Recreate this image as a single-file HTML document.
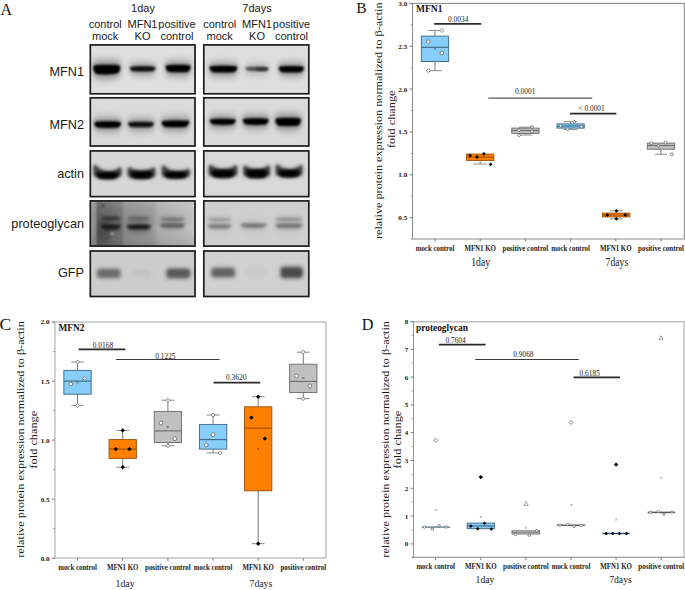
<!DOCTYPE html>
<html><head><meta charset="utf-8"><title>Figure</title>
<style>
html,body{margin:0;padding:0;background:#fff;}
body{width:685px;height:590px;overflow:hidden;font-family:"Liberation Serif", serif;}
svg{display:block;}
</style></head>
<body>
<svg width="685" height="590" viewBox="0 0 685 590">
<rect width="685" height="590" fill="#fff"/>
<text x="0.60" y="14.60" font-family='"Liberation Serif", serif' font-size="16" text-anchor="start" font-weight="normal" fill="#111" >A</text>
<text x="143.00" y="12.40" font-family='"Liberation Sans", sans-serif' font-size="11" text-anchor="middle" font-weight="normal" fill="#1a1a1a" >1day</text>
<text x="257.00" y="12.40" font-family='"Liberation Sans", sans-serif' font-size="11" text-anchor="middle" font-weight="normal" fill="#1a1a1a" >7days</text>
<text x="105.20" y="27.60" font-family='"Liberation Sans", sans-serif' font-size="11" text-anchor="middle" font-weight="normal" fill="#1a1a1a" >control</text>
<text x="105.20" y="40.00" font-family='"Liberation Sans", sans-serif' font-size="11" text-anchor="middle" font-weight="normal" fill="#1a1a1a" >mock</text>
<text x="142.50" y="27.60" font-family='"Liberation Sans", sans-serif' font-size="11" text-anchor="middle" font-weight="normal" fill="#1a1a1a" >MFN1</text>
<text x="142.50" y="40.00" font-family='"Liberation Sans", sans-serif' font-size="11" text-anchor="middle" font-weight="normal" fill="#1a1a1a" >KO</text>
<text x="177.00" y="27.60" font-family='"Liberation Sans", sans-serif' font-size="11" text-anchor="middle" font-weight="normal" fill="#1a1a1a" >positive</text>
<text x="177.00" y="40.00" font-family='"Liberation Sans", sans-serif' font-size="11" text-anchor="middle" font-weight="normal" fill="#1a1a1a" >control</text>
<text x="219.70" y="27.60" font-family='"Liberation Sans", sans-serif' font-size="11" text-anchor="middle" font-weight="normal" fill="#1a1a1a" >control</text>
<text x="219.70" y="40.00" font-family='"Liberation Sans", sans-serif' font-size="11" text-anchor="middle" font-weight="normal" fill="#1a1a1a" >mock</text>
<text x="257.00" y="27.60" font-family='"Liberation Sans", sans-serif' font-size="11" text-anchor="middle" font-weight="normal" fill="#1a1a1a" >MFN1</text>
<text x="257.00" y="40.00" font-family='"Liberation Sans", sans-serif' font-size="11" text-anchor="middle" font-weight="normal" fill="#1a1a1a" >KO</text>
<text x="291.50" y="27.60" font-family='"Liberation Sans", sans-serif' font-size="11" text-anchor="middle" font-weight="normal" fill="#1a1a1a" >positive</text>
<text x="291.50" y="40.00" font-family='"Liberation Sans", sans-serif' font-size="11" text-anchor="middle" font-weight="normal" fill="#1a1a1a" >control</text>
<text x="84.00" y="75.60" font-family='"Liberation Sans", sans-serif' font-size="12.7" text-anchor="end" font-weight="normal" fill="#1a1a1a" >MFN1</text>
<text x="84.00" y="128.80" font-family='"Liberation Sans", sans-serif' font-size="12.7" text-anchor="end" font-weight="normal" fill="#1a1a1a" >MFN2</text>
<text x="84.00" y="178.10" font-family='"Liberation Sans", sans-serif' font-size="12.7" text-anchor="end" font-weight="normal" fill="#1a1a1a" >actin</text>
<text x="84.00" y="227.80" font-family='"Liberation Sans", sans-serif' font-size="12.7" text-anchor="end" font-weight="normal" fill="#1a1a1a" >proteoglycan</text>
<text x="84.00" y="277.00" font-family='"Liberation Sans", sans-serif' font-size="12.7" text-anchor="end" font-weight="normal" fill="#1a1a1a" >GFP</text>
<defs><filter id="b1" x="-50%" y="-100%" width="200%" height="300%"><feGaussianBlur stdDeviation="1.0"/></filter><filter id="b15" x="-50%" y="-100%" width="200%" height="300%"><feGaussianBlur stdDeviation="1.4"/></filter><filter id="bh" x="-50%" y="-150%" width="200%" height="400%"><feGaussianBlur stdDeviation="2.4"/></filter><filter id="bb" x="-5%" y="-5%" width="110%" height="110%"><feGaussianBlur stdDeviation="0.45"/></filter><filter id="b2" x="-50%" y="-100%" width="200%" height="300%"><feGaussianBlur stdDeviation="1.9"/></filter><filter id="b13" x="-50%" y="-100%" width="200%" height="300%"><feGaussianBlur stdDeviation="1.25"/></filter><filter id="b3" x="-50%" y="-100%" width="200%" height="300%"><feGaussianBlur stdDeviation="3"/></filter><linearGradient id="pgL" x1="0" y1="0" x2="1" y2="0"><stop offset="0" stop-color="#a0a0a0"/><stop offset="0.05" stop-color="#8c8c8c"/><stop offset="0.075" stop-color="#5e5e5e"/><stop offset="0.13" stop-color="#686868"/><stop offset="0.3" stop-color="#7a7a7a"/><stop offset="0.33" stop-color="#919191"/><stop offset="0.6" stop-color="#9e9e9e"/><stop offset="0.66" stop-color="#b2b2b2"/><stop offset="0.95" stop-color="#c2c2c2"/><stop offset="1" stop-color="#cacaca"/></linearGradient><linearGradient id="pgV" x1="0" y1="0" x2="0" y2="1"><stop offset="0" stop-color="#fff" stop-opacity="0.12"/><stop offset="0.6" stop-color="#000" stop-opacity="0"/><stop offset="1" stop-color="#000" stop-opacity="0.12"/></linearGradient></defs>
<rect x="90.20" y="44.80" width="104.90" height="49.10" fill="#dfdfdf" stroke="none" stroke-width="1" />
<rect x="203.70" y="44.80" width="105.20" height="49.10" fill="#dedede" stroke="none" stroke-width="1" />
<rect x="90.20" y="97.70" width="104.90" height="48.40" fill="#dadada" stroke="none" stroke-width="1" />
<rect x="203.70" y="97.70" width="105.20" height="48.40" fill="#dadada" stroke="none" stroke-width="1" />
<rect x="90.20" y="150.80" width="104.90" height="45.90" fill="#d6d6d6" stroke="none" stroke-width="1" />
<rect x="203.70" y="150.80" width="105.20" height="45.90" fill="#d8d8d8" stroke="none" stroke-width="1" />
<rect x="90.20" y="200.80" width="104.90" height="45.40" fill="url(#pgL)" stroke="none" stroke-width="1" />
<rect x="90.20" y="200.80" width="104.90" height="45.40" fill="url(#pgV)" stroke="none" stroke-width="1" />
<ellipse cx="104" cy="232" rx="7" ry="12" fill="#303030" opacity="0.35" filter="url(#b2)"/>
<circle cx="103.3" cy="205.7" r="1.6" fill="#222" opacity="0.6" filter="url(#b1)"/>
<circle cx="112.1" cy="233.5" r="1.5" fill="#ddd" opacity="0.7" filter="url(#b1)"/>
<rect x="203.70" y="200.80" width="105.20" height="45.40" fill="#cfcfcf" stroke="none" stroke-width="1" />
<rect x="90.20" y="250.90" width="104.90" height="45.70" fill="#cdcdcd" stroke="none" stroke-width="1" />
<rect x="203.70" y="250.90" width="105.20" height="45.70" fill="#d0d0d0" stroke="none" stroke-width="1" />
<path d="M93.80 65.40 Q96.90 65.10 102.06 64.80 L111.34 64.80 Q116.50 65.10 119.60 65.40 Q121.60 69.70 117.02 73.60 Q106.70 75.20 96.38 74.10 Q91.80 69.70 93.80 65.40Z" fill="#000" opacity="0.45" filter="url(#bh)" transform="translate(106.70,69.70) scale(1.06,1.7) translate(-106.70,-69.70)"/>
<path d="M93.80 65.40 Q96.90 65.10 102.06 64.80 L111.34 64.80 Q116.50 65.10 119.60 65.40 Q121.60 69.70 117.02 73.60 Q106.70 75.20 96.38 74.10 Q91.80 69.70 93.80 65.40Z" fill="#000" opacity="1.0" filter="url(#b1)"/>
<path d="M130.50 66.90 Q133.42 66.60 138.28 66.30 L147.02 66.30 Q151.88 66.60 154.80 66.90 Q156.80 68.80 152.37 71.30 Q142.65 71.90 132.93 71.30 Q128.50 68.80 130.50 66.90Z" fill="#080808" opacity="0.45" filter="url(#bh)" transform="translate(142.65,68.80) scale(1.06,1.7) translate(-142.65,-68.80)"/>
<path d="M130.50 66.90 Q133.42 66.60 138.28 66.30 L147.02 66.30 Q151.88 66.60 154.80 66.90 Q156.80 68.80 152.37 71.30 Q142.65 71.90 132.93 71.30 Q128.50 68.80 130.50 66.90Z" fill="#080808" opacity="1.0" filter="url(#b1)"/>
<path d="M166.20 65.40 Q169.07 65.10 173.85 64.80 L182.45 64.80 Q187.23 65.10 190.10 65.40 Q192.10 68.35 187.71 71.90 Q178.15 72.50 168.59 71.90 Q164.20 68.35 166.20 65.40Z" fill="#000" opacity="0.45" filter="url(#bh)" transform="translate(178.15,68.35) scale(1.06,1.7) translate(-178.15,-68.35)"/>
<path d="M166.20 65.40 Q169.07 65.10 173.85 64.80 L182.45 64.80 Q187.23 65.10 190.10 65.40 Q192.10 68.35 187.71 71.90 Q178.15 72.50 168.59 71.90 Q164.20 68.35 166.20 65.40Z" fill="#000" opacity="1.0" filter="url(#b1)"/>
<path d="M210.10 66.30 Q213.29 66.00 218.61 65.70 L228.19 65.70 Q233.51 66.00 236.70 66.30 Q238.70 69.00 234.04 72.30 Q223.40 72.90 212.76 72.30 Q208.10 69.00 210.10 66.30Z" fill="#000" opacity="0.45" filter="url(#bh)" transform="translate(223.40,69.00) scale(1.06,1.7) translate(-223.40,-69.00)"/>
<path d="M210.10 66.30 Q213.29 66.00 218.61 65.70 L228.19 65.70 Q233.51 66.00 236.70 66.30 Q238.70 69.00 234.04 72.30 Q223.40 72.90 212.76 72.30 Q208.10 69.00 210.10 66.30Z" fill="#000" opacity="1.0" filter="url(#b1)"/>
<path d="M246.00 67.34 Q248.65 67.10 253.07 66.80 L261.03 66.80 Q265.45 67.10 268.10 67.64 Q269.90 68.95 265.89 70.80 Q257.05 71.40 248.21 70.80 Q244.20 68.80 246.00 67.34Z" fill="#505050" opacity="0.45" filter="url(#bh)" transform="translate(257.05,68.80) scale(1.06,1.7) translate(-257.05,-68.80)"/>
<path d="M246.00 67.34 Q248.65 67.10 253.07 66.80 L261.03 66.80 Q265.45 67.10 268.10 67.64 Q269.90 68.95 265.89 70.80 Q257.05 71.40 248.21 70.80 Q244.20 68.80 246.00 67.34Z" fill="#505050" opacity="1.0" filter="url(#b1)"/>
<path d="M256.00 67.83 Q257.39 67.70 259.71 67.40 L263.89 67.40 Q266.21 67.70 267.60 67.83 Q269.04 69.00 266.44 70.60 Q261.80 71.20 257.16 70.60 Q254.56 69.00 256.00 67.83Z" fill="#383838" opacity="1.0" filter="url(#b1)"/>
<path d="M279.40 66.60 Q282.27 66.30 287.05 66.00 L295.65 66.00 Q300.43 66.30 303.30 66.60 Q305.30 69.15 300.91 72.30 Q291.35 72.90 281.79 72.30 Q277.40 69.15 279.40 66.60Z" fill="#000" opacity="0.45" filter="url(#bh)" transform="translate(291.35,69.15) scale(1.06,1.7) translate(-291.35,-69.15)"/>
<path d="M279.40 66.60 Q282.27 66.30 287.05 66.00 L295.65 66.00 Q300.43 66.30 303.30 66.60 Q305.30 69.15 300.91 72.30 Q291.35 72.90 281.79 72.30 Q277.40 69.15 279.40 66.60Z" fill="#000" opacity="1.0" filter="url(#b1)"/>
<path d="M94.90 121.90 Q97.96 121.60 103.06 121.30 L112.24 121.30 Q117.34 121.60 120.40 121.90 Q122.40 124.45 117.85 127.60 Q107.65 128.20 97.45 127.60 Q92.90 124.45 94.90 121.90Z" fill="#000" opacity="0.45" filter="url(#bh)" transform="translate(107.65,124.45) scale(1.06,1.7) translate(-107.65,-124.45)"/>
<path d="M94.90 121.90 Q97.96 121.60 103.06 121.30 L112.24 121.30 Q117.34 121.60 120.40 121.90 Q122.40 124.45 117.85 127.60 Q107.65 128.20 97.45 127.60 Q92.90 124.45 94.90 121.90Z" fill="#000" opacity="1.0" filter="url(#b1)"/>
<path d="M128.60 122.40 Q131.56 122.10 136.50 121.80 L145.40 121.80 Q150.34 122.10 153.30 122.40 Q155.30 124.35 150.83 126.90 Q140.95 127.50 131.07 126.90 Q126.60 124.35 128.60 122.40Z" fill="#080808" opacity="0.45" filter="url(#bh)" transform="translate(140.95,124.35) scale(1.06,1.7) translate(-140.95,-124.35)"/>
<path d="M128.60 122.40 Q131.56 122.10 136.50 121.80 L145.40 121.80 Q150.34 122.10 153.30 122.40 Q155.30 124.35 150.83 126.90 Q140.95 127.50 131.07 126.90 Q126.60 124.35 128.60 122.40Z" fill="#080808" opacity="1.0" filter="url(#b1)"/>
<path d="M162.30 121.20 Q165.46 120.90 170.72 120.60 L180.18 120.60 Q185.44 120.90 188.60 120.60 Q190.60 123.45 185.97 126.90 Q175.45 127.50 164.93 126.90 Q160.30 123.75 162.30 121.20Z" fill="#000" opacity="0.45" filter="url(#bh)" transform="translate(175.45,123.75) scale(1.06,1.7) translate(-175.45,-123.75)"/>
<path d="M162.30 121.20 Q165.46 120.90 170.72 120.60 L180.18 120.60 Q185.44 120.90 188.60 120.60 Q190.60 123.45 185.97 126.90 Q175.45 127.50 164.93 126.90 Q160.30 123.75 162.30 121.20Z" fill="#000" opacity="1.0" filter="url(#b1)"/>
<path d="M210.40 119.30 Q213.36 119.00 218.30 118.70 L227.20 118.70 Q232.14 119.00 235.10 119.30 Q237.10 121.65 232.63 124.60 Q222.75 125.20 212.87 124.60 Q208.40 121.65 210.40 119.30Z" fill="#000" opacity="0.45" filter="url(#bh)" transform="translate(222.75,121.65) scale(1.06,1.7) translate(-222.75,-121.65)"/>
<path d="M210.40 119.30 Q213.36 119.00 218.30 118.70 L227.20 118.70 Q232.14 119.00 235.10 119.30 Q237.10 121.65 232.63 124.60 Q222.75 125.20 212.87 124.60 Q208.40 121.65 210.40 119.30Z" fill="#000" opacity="1.0" filter="url(#b1)"/>
<path d="M243.40 118.90 Q246.36 118.60 251.30 118.30 L260.20 118.30 Q265.14 118.60 268.10 118.90 Q270.10 121.45 265.63 124.60 Q255.75 125.20 245.87 124.60 Q241.40 121.45 243.40 118.90Z" fill="#000" opacity="0.45" filter="url(#bh)" transform="translate(255.75,121.45) scale(1.06,1.7) translate(-255.75,-121.45)"/>
<path d="M243.40 118.90 Q246.36 118.60 251.30 118.30 L260.20 118.30 Q265.14 118.60 268.10 118.90 Q270.10 121.45 265.63 124.60 Q255.75 125.20 245.87 124.60 Q241.40 121.45 243.40 118.90Z" fill="#000" opacity="1.0" filter="url(#b1)"/>
<path d="M276.00 118.40 Q278.92 118.10 283.78 117.80 L292.52 117.80 Q297.38 118.10 300.30 118.40 Q302.30 121.80 297.87 125.80 Q288.15 126.40 278.43 125.80 Q274.00 121.80 276.00 118.40Z" fill="#000" opacity="0.45" filter="url(#bh)" transform="translate(288.15,121.80) scale(1.06,1.7) translate(-288.15,-121.80)"/>
<path d="M276.00 118.40 Q278.92 118.10 283.78 117.80 L292.52 117.80 Q297.38 118.10 300.30 118.40 Q302.30 121.80 297.87 125.80 Q288.15 126.40 278.43 125.80 Q274.00 121.80 276.00 118.40Z" fill="#000" opacity="1.0" filter="url(#b1)"/>
<path d="M95.40 164.80 C101.94 171.87 113.06 171.87 119.60 167.20 Q121.40 167.20 121.40 169.00 L121.40 174.20 Q121.40 176.50 118.62 176.80 C113.06 179.73 101.94 179.73 96.38 176.80 Q93.60 176.50 93.60 174.20 L93.60 166.60 Q93.60 164.80 95.40 164.80Z" fill="#555" opacity="0.4" filter="url(#bh)"/>
<path d="M95.40 164.80 C101.94 173.47 113.06 173.47 119.60 167.20 Q121.40 167.20 121.40 169.00 L121.40 174.20 Q121.40 176.50 118.62 176.80 C113.06 179.73 101.94 179.73 96.38 176.80 Q93.60 176.50 93.60 174.20 L93.60 166.60 Q93.60 164.80 95.40 164.80Z" fill="#3c3c3c" opacity="1.0" filter="url(#b15)"/>
<path d="M97.10 172.60 Q99.60 172.30 103.76 172.00 L111.24 172.00 Q115.40 172.30 117.90 172.60 Q119.90 175.10 115.82 178.20 Q107.50 179.20 99.18 178.20 Q95.10 175.10 97.10 172.60Z" fill="#000" opacity="1.0" filter="url(#b15)"/>
<path d="M129.60 167.20 C136.02 170.60 146.98 170.60 153.40 167.60 Q155.20 167.60 155.20 169.40 L155.20 174.80 Q155.20 177.10 152.46 177.40 C146.98 179.27 136.02 179.27 130.54 177.40 Q127.80 177.10 127.80 174.80 L127.80 169.00 Q127.80 167.20 129.60 167.20Z" fill="#555" opacity="0.4" filter="url(#bh)"/>
<path d="M129.60 167.20 C136.02 172.20 146.98 172.20 153.40 167.60 Q155.20 167.60 155.20 169.40 L155.20 174.80 Q155.20 177.10 152.46 177.40 C146.98 179.27 136.02 179.27 130.54 177.40 Q127.80 177.10 127.80 174.80 L127.80 169.00 Q127.80 167.20 129.60 167.20Z" fill="#3c3c3c" opacity="1.0" filter="url(#b15)"/>
<path d="M131.30 171.80 Q133.75 171.50 137.83 171.20 L145.17 171.20 Q149.25 171.50 151.70 171.80 Q153.70 174.60 149.66 178.00 Q141.50 179.00 133.34 178.00 Q129.30 174.60 131.30 171.80Z" fill="#000" opacity="1.0" filter="url(#b15)"/>
<path d="M163.80 165.20 C170.34 171.53 181.46 171.53 188.00 168.80 Q189.80 168.80 189.80 170.60 L189.80 174.40 Q189.80 176.70 187.02 177.00 C181.46 179.13 170.34 179.13 164.78 177.00 Q162.00 176.70 162.00 174.40 L162.00 167.00 Q162.00 165.20 163.80 165.20Z" fill="#555" opacity="0.4" filter="url(#bh)"/>
<path d="M163.80 165.20 C170.34 173.13 181.46 173.13 188.00 168.80 Q189.80 168.80 189.80 170.60 L189.80 174.40 Q189.80 176.70 187.02 177.00 C181.46 179.13 170.34 179.13 164.78 177.00 Q162.00 176.70 162.00 174.40 L162.00 167.00 Q162.00 165.20 163.80 165.20Z" fill="#3c3c3c" opacity="1.0" filter="url(#b15)"/>
<path d="M165.50 172.20 Q168.00 171.90 172.16 171.60 L179.64 171.60 Q183.80 171.90 186.30 172.20 Q188.30 174.70 184.22 177.80 Q175.90 178.80 167.58 177.80 Q163.50 174.70 165.50 172.20Z" fill="#000" opacity="1.0" filter="url(#b15)"/>
<path d="M210.60 164.80 C217.32 169.53 228.68 169.53 235.40 165.20 Q237.20 165.20 237.20 167.00 L237.20 173.40 Q237.20 175.70 234.36 176.00 C228.68 178.40 217.32 178.40 211.64 176.00 Q208.80 175.70 208.80 173.40 L208.80 166.60 Q208.80 164.80 210.60 164.80Z" fill="#555" opacity="0.4" filter="url(#bh)"/>
<path d="M210.60 164.80 C217.32 171.13 228.68 171.13 235.40 165.20 Q237.20 165.20 237.20 167.00 L237.20 173.40 Q237.20 175.70 234.36 176.00 C228.68 178.40 217.32 178.40 211.64 176.00 Q208.80 175.70 208.80 173.40 L208.80 166.60 Q208.80 164.80 210.60 164.80Z" fill="#3c3c3c" opacity="1.0" filter="url(#b15)"/>
<path d="M212.30 170.40 Q214.87 170.10 219.15 169.80 L226.85 169.80 Q231.13 170.10 233.70 170.40 Q235.70 173.40 231.56 177.00 Q223.00 178.00 214.44 177.00 Q210.30 173.40 212.30 170.40Z" fill="#000" opacity="1.0" filter="url(#b15)"/>
<path d="M245.20 165.40 C251.38 169.37 262.02 169.37 268.20 165.60 Q270.00 165.60 270.00 167.40 L270.00 173.80 Q270.00 176.10 267.34 176.40 C262.02 178.53 251.38 178.53 246.06 176.40 Q243.40 176.10 243.40 173.80 L243.40 167.20 Q243.40 165.40 245.20 165.40Z" fill="#555" opacity="0.4" filter="url(#bh)"/>
<path d="M245.20 165.40 C251.38 170.97 262.02 170.97 268.20 165.60 Q270.00 165.60 270.00 167.40 L270.00 173.80 Q270.00 176.10 267.34 176.40 C262.02 178.53 251.38 178.53 246.06 176.40 Q243.40 176.10 243.40 173.80 L243.40 167.20 Q243.40 165.40 245.20 165.40Z" fill="#3c3c3c" opacity="1.0" filter="url(#b15)"/>
<path d="M246.90 170.20 Q249.25 169.90 253.17 169.60 L260.23 169.60 Q264.15 169.90 266.50 170.20 Q268.50 173.40 264.54 177.20 Q256.70 178.20 248.86 177.20 Q244.90 173.40 246.90 170.20Z" fill="#000" opacity="1.0" filter="url(#b15)"/>
<path d="M277.60 164.60 C283.78 169.60 294.42 169.60 300.60 165.00 Q302.40 165.00 302.40 166.80 L302.40 173.20 Q302.40 175.50 299.74 175.80 C294.42 177.93 283.78 177.93 278.46 175.80 Q275.80 175.50 275.80 173.20 L275.80 166.40 Q275.80 164.60 277.60 164.60Z" fill="#555" opacity="0.4" filter="url(#bh)"/>
<path d="M277.60 164.60 C283.78 171.20 294.42 171.20 300.60 165.00 Q302.40 165.00 302.40 166.80 L302.40 173.20 Q302.40 175.50 299.74 175.80 C294.42 177.93 283.78 177.93 278.46 175.80 Q275.80 175.50 275.80 173.20 L275.80 166.40 Q275.80 164.60 277.60 164.60Z" fill="#3c3c3c" opacity="1.0" filter="url(#b15)"/>
<path d="M279.30 170.60 Q281.65 170.30 285.57 170.00 L292.63 170.00 Q296.55 170.30 298.90 170.60 Q300.90 173.30 296.94 176.60 Q289.10 177.60 281.26 176.60 Q277.30 173.30 279.30 170.60Z" fill="#000" opacity="1.0" filter="url(#b15)"/>
<path d="M101.80 217.18 Q103.96 217.10 107.56 216.80 L114.04 216.80 Q117.64 217.10 119.80 217.18 Q121.06 218.20 118.00 219.60 Q110.80 220.20 103.60 219.60 Q100.54 218.20 101.80 217.18Z" fill="#2e2e2e" opacity="0.3" filter="url(#bh)" transform="translate(110.80,218.20) scale(1.06,1.7) translate(-110.80,-218.20)"/>
<path d="M101.80 217.18 Q103.96 217.10 107.56 216.80 L114.04 216.80 Q117.64 217.10 119.80 217.18 Q121.06 218.20 118.00 219.60 Q110.80 220.20 103.60 219.60 Q100.54 218.20 101.80 217.18Z" fill="#2e2e2e" opacity="1.0" filter="url(#b15)"/>
<path d="M101.60 225.00 Q103.81 224.70 107.49 224.40 L114.11 224.40 Q117.79 224.70 120.00 225.00 Q122.00 226.65 118.16 228.90 Q110.80 229.50 103.44 228.90 Q99.60 226.65 101.60 225.00Z" fill="#151515" opacity="0.35" filter="url(#bh)" transform="translate(110.80,226.65) scale(1.06,1.7) translate(-110.80,-226.65)"/>
<path d="M101.60 225.00 Q103.81 224.70 107.49 224.40 L114.11 224.40 Q117.79 224.70 120.00 225.00 Q122.00 226.65 118.16 228.90 Q110.80 229.50 103.44 228.90 Q99.60 226.65 101.60 225.00Z" fill="#151515" opacity="1.0" filter="url(#b15)"/>
<path d="M127.60 217.44 Q130.24 217.40 134.64 217.10 L142.56 217.10 Q146.96 217.40 149.60 217.44 Q150.72 218.35 147.40 219.60 Q138.60 220.20 129.80 219.60 Q126.47 218.35 127.60 217.44Z" fill="#5e5e5e" opacity="0.3" filter="url(#bh)" transform="translate(138.60,218.35) scale(1.06,1.7) translate(-138.60,-218.35)"/>
<path d="M127.60 217.44 Q130.24 217.40 134.64 217.10 L142.56 217.10 Q146.96 217.40 149.60 217.44 Q150.72 218.35 147.40 219.60 Q138.60 220.20 129.80 219.60 Q126.47 218.35 127.60 217.44Z" fill="#5e5e5e" opacity="1.0" filter="url(#b15)"/>
<path d="M127.40 225.35 Q130.14 225.10 134.70 224.80 L142.90 224.80 Q147.46 225.10 150.20 225.35 Q152.04 226.85 147.92 228.90 Q138.80 229.50 129.68 228.90 Q125.56 226.85 127.40 225.35Z" fill="#111" opacity="0.4" filter="url(#bh)" transform="translate(138.80,226.85) scale(1.06,1.7) translate(-138.80,-226.85)"/>
<path d="M127.40 225.35 Q130.14 225.10 134.70 224.80 L142.90 224.80 Q147.46 225.10 150.20 225.35 Q152.04 226.85 147.92 228.90 Q138.80 229.50 129.68 228.90 Q125.56 226.85 127.40 225.35Z" fill="#111" opacity="1.0" filter="url(#b15)"/>
<path d="M160.60 218.09 Q163.43 218.00 168.15 217.70 L176.65 217.70 Q181.37 218.00 184.20 218.09 Q185.50 219.15 181.84 220.60 Q172.40 221.20 162.96 220.60 Q159.29 219.15 160.60 218.09Z" fill="#6e6e6e" opacity="0.3" filter="url(#bh)" transform="translate(172.40,219.15) scale(1.06,1.7) translate(-172.40,-219.15)"/>
<path d="M160.60 218.09 Q163.43 218.00 168.15 217.70 L176.65 217.70 Q181.37 218.00 184.20 218.09 Q185.50 219.15 181.84 220.60 Q172.40 221.20 162.96 220.60 Q159.29 219.15 160.60 218.09Z" fill="#6e6e6e" opacity="1.0" filter="url(#b15)"/>
<path d="M160.60 223.78 Q163.43 223.50 168.15 223.20 L176.65 223.20 Q181.37 223.50 184.20 223.78 Q186.13 225.35 181.84 227.50 Q172.40 228.10 162.96 227.50 Q158.66 225.35 160.60 223.78Z" fill="#5c5c5c" opacity="0.3" filter="url(#bh)" transform="translate(172.40,225.35) scale(1.06,1.7) translate(-172.40,-225.35)"/>
<path d="M160.60 223.78 Q163.43 223.50 168.15 223.20 L176.65 223.20 Q181.37 223.50 184.20 223.78 Q186.13 225.35 181.84 227.50 Q172.40 228.10 162.96 227.50 Q158.66 225.35 160.60 223.78Z" fill="#5c5c5c" opacity="1.0" filter="url(#b15)"/>
<path d="M208.40 218.26 Q211.06 218.20 215.50 217.90 L223.50 217.90 Q227.94 218.20 230.60 218.26 Q231.81 219.25 228.38 220.60 Q219.50 221.20 210.62 220.60 Q207.19 219.25 208.40 218.26Z" fill="#929292" opacity="0.25" filter="url(#bh)" transform="translate(219.50,219.25) scale(1.06,1.7) translate(-219.50,-219.25)"/>
<path d="M208.40 218.26 Q211.06 218.20 215.50 217.90 L223.50 217.90 Q227.94 218.20 230.60 218.26 Q231.81 219.25 228.38 220.60 Q219.50 221.20 210.62 220.60 Q207.19 219.25 208.40 218.26Z" fill="#929292" opacity="1.0" filter="url(#b15)"/>
<path d="M208.40 224.59 Q211.06 224.30 215.50 224.00 L223.50 224.00 Q227.94 224.30 230.60 224.59 Q232.58 226.20 228.38 228.40 Q219.50 229.00 210.62 228.40 Q206.42 226.20 208.40 224.59Z" fill="#7c7c7c" opacity="0.25" filter="url(#bh)" transform="translate(219.50,226.20) scale(1.06,1.7) translate(-219.50,-226.20)"/>
<path d="M208.40 224.59 Q211.06 224.30 215.50 224.00 L223.50 224.00 Q227.94 224.30 230.60 224.59 Q232.58 226.20 228.38 228.40 Q219.50 229.00 210.62 228.40 Q206.42 226.20 208.40 224.59Z" fill="#7c7c7c" opacity="1.0" filter="url(#b15)"/>
<path d="M241.40 223.79 Q244.33 223.50 249.21 223.20 L257.99 223.20 Q262.87 223.50 265.80 223.79 Q267.78 225.40 263.36 227.60 Q253.60 228.20 243.84 227.60 Q239.42 225.40 241.40 223.79Z" fill="#747474" opacity="0.25" filter="url(#bh)" transform="translate(253.60,225.40) scale(1.06,1.7) translate(-253.60,-225.40)"/>
<path d="M241.40 223.79 Q244.33 223.50 249.21 223.20 L257.99 223.20 Q262.87 223.50 265.80 223.79 Q267.78 225.40 263.36 227.60 Q253.60 228.20 243.84 227.60 Q239.42 225.40 241.40 223.79Z" fill="#747474" opacity="1.0" filter="url(#b15)"/>
<path d="M276.00 218.09 Q279.12 218.00 284.32 217.70 L293.68 217.70 Q298.88 218.00 302.00 218.09 Q303.31 219.15 299.40 220.60 Q289.00 221.20 278.60 220.60 Q274.69 219.15 276.00 218.09Z" fill="#8a8a8a" opacity="0.25" filter="url(#bh)" transform="translate(289.00,219.15) scale(1.06,1.7) translate(-289.00,-219.15)"/>
<path d="M276.00 218.09 Q279.12 218.00 284.32 217.70 L293.68 217.70 Q298.88 218.00 302.00 218.09 Q303.31 219.15 299.40 220.60 Q289.00 221.20 278.60 220.60 Q274.69 219.15 276.00 218.09Z" fill="#8a8a8a" opacity="1.0" filter="url(#b15)"/>
<path d="M276.00 223.80 Q279.12 223.50 284.32 223.20 L293.68 223.20 Q298.88 223.50 302.00 223.80 Q304.00 225.55 299.40 227.90 Q289.00 228.50 278.60 227.90 Q274.00 225.55 276.00 223.80Z" fill="#747474" opacity="0.25" filter="url(#bh)" transform="translate(289.00,225.55) scale(1.06,1.7) translate(-289.00,-225.55)"/>
<path d="M276.00 223.80 Q279.12 223.50 284.32 223.20 L293.68 223.20 Q298.88 223.50 302.00 223.80 Q304.00 225.55 299.40 227.90 Q289.00 228.50 278.60 227.90 Q274.00 225.55 276.00 223.80Z" fill="#747474" opacity="1.0" filter="url(#b15)"/>
<rect x="96.80" y="268.60" width="23.80" height="9.60" rx="2.5" fill="#7a7a7a" opacity="1.0" filter="url(#b2)"/>
<rect x="98.50" y="270.50" width="20.50" height="6.00" rx="2.5" fill="#6c6c6c" opacity="1.0" filter="url(#b15)"/>
<rect x="132.00" y="269.50" width="19.60" height="7.50" rx="2.5" fill="#c2c2c2" opacity="1.0" filter="url(#b2)"/>
<rect x="166.20" y="268.20" width="24.20" height="10.20" rx="2.5" fill="#6a6a6a" opacity="1.0" filter="url(#b2)"/>
<rect x="168.00" y="270.00" width="21.00" height="6.80" rx="2.5" fill="#5a5a5a" opacity="1.0" filter="url(#b15)"/>
<rect x="211.20" y="267.40" width="23.80" height="10.20" rx="2.5" fill="#727272" opacity="1.0" filter="url(#b2)"/>
<rect x="213.00" y="269.20" width="20.50" height="6.60" rx="2.5" fill="#626262" opacity="1.0" filter="url(#b15)"/>
<rect x="246.00" y="268.50" width="20.00" height="7.50" rx="2.5" fill="#c8c8c8" opacity="1.0" filter="url(#b2)"/>
<rect x="280.40" y="266.60" width="22.40" height="11.60" rx="2.5" fill="#5e5e5e" opacity="1.0" filter="url(#b2)"/>
<rect x="282.00" y="268.50" width="19.50" height="8.00" rx="2.5" fill="#4a4a4a" opacity="1.0" filter="url(#b15)"/>
<rect x="90.30" y="44.90" width="104.70" height="48.90" fill="none" stroke="#1c1c1c" stroke-width="1.7" filter="url(#bb)"/>
<rect x="203.80" y="44.90" width="105.00" height="48.90" fill="none" stroke="#1c1c1c" stroke-width="1.7" filter="url(#bb)"/>
<rect x="90.30" y="97.80" width="104.70" height="48.20" fill="none" stroke="#1c1c1c" stroke-width="1.7" filter="url(#bb)"/>
<rect x="203.80" y="97.80" width="105.00" height="48.20" fill="none" stroke="#1c1c1c" stroke-width="1.7" filter="url(#bb)"/>
<rect x="90.30" y="150.90" width="104.70" height="45.70" fill="none" stroke="#1c1c1c" stroke-width="1.7" filter="url(#bb)"/>
<rect x="203.80" y="150.90" width="105.00" height="45.70" fill="none" stroke="#1c1c1c" stroke-width="1.7" filter="url(#bb)"/>
<rect x="90.30" y="200.90" width="104.70" height="45.20" fill="none" stroke="#1c1c1c" stroke-width="1.7" filter="url(#bb)"/>
<rect x="203.80" y="200.90" width="105.00" height="45.20" fill="none" stroke="#1c1c1c" stroke-width="1.7" filter="url(#bb)"/>
<rect x="90.30" y="251.00" width="104.70" height="45.50" fill="none" stroke="#1c1c1c" stroke-width="1.7" filter="url(#bb)"/>
<rect x="203.80" y="251.00" width="105.00" height="45.50" fill="none" stroke="#1c1c1c" stroke-width="1.7" filter="url(#bb)"/>
<text x="356.20" y="13.00" font-family='"Liberation Serif", serif' font-size="15.5" text-anchor="start" font-weight="normal" fill="#111" >B</text>
<text transform="translate(381.90,120.75) rotate(-90) scale(1,0.87)" font-family='"Liberation Serif", serif' font-size="12.3" text-anchor="middle" fill="#1a1a1a" textLength="236.60" lengthAdjust="spacingAndGlyphs">relative protein expression normalized to &#946;-actin</text>
<text transform="translate(394.90,119.30) rotate(-90) scale(1,0.87)" font-family='"Liberation Serif", serif' font-size="12.3" text-anchor="middle" fill="#1a1a1a">fold change</text>
<line x1="435.00" y1="30.50" x2="435.00" y2="36.10" stroke="#7a7a7a" stroke-width="1" />
<line x1="428.20" y1="30.50" x2="441.80" y2="30.50" stroke="#8a8a8a" stroke-width="1" />
<line x1="435.00" y1="61.50" x2="435.00" y2="70.70" stroke="#7a7a7a" stroke-width="1" />
<line x1="428.20" y1="70.70" x2="441.80" y2="70.70" stroke="#8a8a8a" stroke-width="1" />
<rect x="421.35" y="36.10" width="27.30" height="25.40" fill="#87cefa" stroke="#3a6680" stroke-width="0.9" />
<line x1="421.35" y1="47.30" x2="448.65" y2="47.30" stroke="#3a6680" stroke-width="1.1" />
<circle cx="428.30" cy="41.70" r="1.9" fill="#fff" stroke="#666" stroke-width="0.8"/>
<circle cx="441.80" cy="53.10" r="1.9" fill="#fff" stroke="#666" stroke-width="0.8"/>
<path d="M441.80 28.50L443.80 30.50L441.80 32.50L439.80 30.50Z" fill="#fff" stroke="#666" stroke-width="0.8"/>
<path d="M428.30 68.70L430.30 70.70L428.30 72.70L426.30 70.70Z" fill="#fff" stroke="#666" stroke-width="0.8"/>
<path d="M434.10 48.00L435.70 49.60M435.70 48.00L434.10 49.60" stroke="#555" stroke-width="0.7"/>
<line x1="480.20" y1="160.40" x2="480.20" y2="164.00" stroke="#7a7a7a" stroke-width="1" />
<line x1="473.20" y1="164.00" x2="487.20" y2="164.00" stroke="#8a8a8a" stroke-width="1" />
<rect x="466.55" y="154.10" width="27.30" height="6.30" fill="#ff8000" stroke="#9a4d00" stroke-width="0.9" />
<line x1="466.55" y1="157.20" x2="493.85" y2="157.20" stroke="#9a4d00" stroke-width="1.1" />
<path d="M470.10 153.60L472.00 155.50L470.10 157.40L468.20 155.50Z" fill="#000"/>
<path d="M483.90 151.90L485.80 153.80L483.90 155.70L482.00 153.80Z" fill="#000"/>
<path d="M477.00 155.10L478.90 157.00L477.00 158.90L475.10 157.00Z" fill="#000"/>
<path d="M490.60 162.40L492.50 164.30L490.60 166.20L488.70 164.30Z" fill="#000"/>
<line x1="525.40" y1="127.20" x2="525.40" y2="128.10" stroke="#7a7a7a" stroke-width="1" />
<line x1="518.90" y1="127.20" x2="531.90" y2="127.20" stroke="#8a8a8a" stroke-width="1" />
<line x1="525.40" y1="133.40" x2="525.40" y2="135.00" stroke="#7a7a7a" stroke-width="1" />
<line x1="518.90" y1="135.00" x2="531.90" y2="135.00" stroke="#8a8a8a" stroke-width="1" />
<rect x="511.75" y="128.10" width="27.30" height="5.30" fill="#c0c0c0" stroke="#6a6a6a" stroke-width="0.9" />
<line x1="511.75" y1="130.50" x2="539.05" y2="130.50" stroke="#6a6a6a" stroke-width="1.1" />
<circle cx="532.00" cy="127.00" r="1.4" fill="#fff" stroke="#666" stroke-width="0.8"/>
<circle cx="519.00" cy="130.30" r="1.4" fill="#fff" stroke="#666" stroke-width="0.8"/>
<circle cx="532.00" cy="131.50" r="1.4" fill="#fff" stroke="#666" stroke-width="0.8"/>
<path d="M519.00 133.70L520.60 135.30L519.00 136.90L517.40 135.30Z" fill="#fff" stroke="#666" stroke-width="0.8"/>
<line x1="570.60" y1="121.70" x2="570.60" y2="123.90" stroke="#7a7a7a" stroke-width="1" />
<line x1="563.60" y1="121.70" x2="577.60" y2="121.70" stroke="#8a8a8a" stroke-width="1" />
<line x1="570.60" y1="128.10" x2="570.60" y2="129.60" stroke="#7a7a7a" stroke-width="1" />
<line x1="563.60" y1="129.60" x2="577.60" y2="129.60" stroke="#8a8a8a" stroke-width="1" />
<rect x="556.95" y="123.90" width="27.30" height="4.20" fill="#87cefa" stroke="#3a6680" stroke-width="0.9" />
<line x1="556.95" y1="126.00" x2="584.25" y2="126.00" stroke="#3a6680" stroke-width="1.1" />
<circle cx="560.60" cy="125.80" r="1.4" fill="#fff" stroke="#666" stroke-width="0.8"/>
<path d="M574.20 120.30L575.80 121.90L574.20 123.50L572.60 121.90Z" fill="#fff" stroke="#666" stroke-width="0.8"/>
<path d="M567.50 127.80L569.10 129.40L567.50 131.00L565.90 129.40Z" fill="#fff" stroke="#666" stroke-width="0.8"/>
<circle cx="581.40" cy="126.60" r="1.4" fill="#fff" stroke="#666" stroke-width="0.8"/>
<line x1="616.20" y1="210.80" x2="616.20" y2="213.10" stroke="#7a7a7a" stroke-width="1" />
<line x1="609.85" y1="210.80" x2="622.55" y2="210.80" stroke="#8a8a8a" stroke-width="1" />
<line x1="616.20" y1="216.90" x2="616.20" y2="218.80" stroke="#7a7a7a" stroke-width="1" />
<line x1="609.85" y1="218.80" x2="622.55" y2="218.80" stroke="#8a8a8a" stroke-width="1" />
<rect x="602.55" y="213.10" width="27.30" height="3.80" fill="#ff8000" stroke="#9a4d00" stroke-width="0.9" />
<line x1="602.55" y1="215.00" x2="629.85" y2="215.00" stroke="#9a4d00" stroke-width="1.1" />
<path d="M607.30 213.10L609.20 215.00L607.30 216.90L605.40 215.00Z" fill="#000"/>
<path d="M616.40 208.90L618.30 210.80L616.40 212.70L614.50 210.80Z" fill="#000"/>
<path d="M616.40 216.90L618.30 218.80L616.40 220.70L614.50 218.80Z" fill="#000"/>
<path d="M625.30 213.10L627.20 215.00L625.30 216.90L623.40 215.00Z" fill="#000"/>
<line x1="661.00" y1="149.20" x2="661.00" y2="154.30" stroke="#7a7a7a" stroke-width="1" />
<line x1="655.00" y1="154.30" x2="667.00" y2="154.30" stroke="#8a8a8a" stroke-width="1" />
<rect x="647.35" y="143.10" width="27.30" height="6.10" fill="#c0c0c0" stroke="#6a6a6a" stroke-width="0.9" />
<line x1="647.35" y1="145.50" x2="674.65" y2="145.50" stroke="#6a6a6a" stroke-width="1.1" />
<circle cx="651.50" cy="143.30" r="1.4" fill="#fff" stroke="#666" stroke-width="0.8"/>
<circle cx="665.50" cy="142.50" r="1.4" fill="#fff" stroke="#666" stroke-width="0.8"/>
<circle cx="658.50" cy="145.80" r="1.3" fill="#fff" stroke="#666" stroke-width="0.8"/>
<circle cx="671.80" cy="154.30" r="1.5" fill="#fff" stroke="#666" stroke-width="0.8"/>
<line x1="434.20" y1="23.90" x2="481.20" y2="23.90" stroke="#2a2a2a" stroke-width="1.8" />
<text x="458.20" y="22.40" font-family='"Liberation Serif", serif' font-size="7.4" text-anchor="middle" font-weight="normal" fill="#222" >0.0034</text>
<line x1="488.30" y1="98.20" x2="592.20" y2="98.20" stroke="#5a5a5a" stroke-width="1.3" />
<text x="525.20" y="93.60" font-family='"Liberation Serif", serif' font-size="7.4" text-anchor="middle" font-weight="normal" fill="#222" >0.0001</text>
<line x1="570.00" y1="113.60" x2="616.40" y2="113.60" stroke="#2a2a2a" stroke-width="1.8" />
<text x="591.60" y="110.60" font-family='"Liberation Serif", serif' font-size="7.4" text-anchor="middle" font-weight="normal" fill="#222" >&lt; 0.0001</text>
<line x1="409.50" y1="3.40" x2="684.80" y2="3.40" stroke="#858585" stroke-width="1.0" />
<line x1="684.30" y1="3.40" x2="684.30" y2="238.90" stroke="#858585" stroke-width="1.0" />
<line x1="412.50" y1="3.40" x2="412.50" y2="239.65" stroke="#8a8a8a" stroke-width="1.0" />
<line x1="410.80" y1="238.90" x2="684.80" y2="238.90" stroke="#b0b0b0" stroke-width="1.5" />
<line x1="409.50" y1="3.50" x2="412.50" y2="3.50" stroke="#808080" stroke-width="1" />
<text x="407.30" y="5.95" font-family='"Liberation Serif", serif' font-size="7.15" text-anchor="end" font-weight="bold" fill="#222" >3.0</text>
<line x1="409.50" y1="46.33" x2="412.50" y2="46.33" stroke="#808080" stroke-width="1" />
<text x="407.30" y="48.78" font-family='"Liberation Serif", serif' font-size="7.15" text-anchor="end" font-weight="bold" fill="#222" >2.5</text>
<line x1="409.50" y1="89.15" x2="412.50" y2="89.15" stroke="#808080" stroke-width="1" />
<text x="407.30" y="91.60" font-family='"Liberation Serif", serif' font-size="7.15" text-anchor="end" font-weight="bold" fill="#222" >2.0</text>
<line x1="409.50" y1="131.98" x2="412.50" y2="131.98" stroke="#808080" stroke-width="1" />
<text x="407.30" y="134.43" font-family='"Liberation Serif", serif' font-size="7.15" text-anchor="end" font-weight="bold" fill="#222" >1.5</text>
<line x1="409.50" y1="174.80" x2="412.50" y2="174.80" stroke="#808080" stroke-width="1" />
<text x="407.30" y="177.25" font-family='"Liberation Serif", serif' font-size="7.15" text-anchor="end" font-weight="bold" fill="#222" >1.0</text>
<line x1="409.50" y1="217.62" x2="412.50" y2="217.62" stroke="#808080" stroke-width="1" />
<text x="407.30" y="220.07" font-family='"Liberation Serif", serif' font-size="7.15" text-anchor="end" font-weight="bold" fill="#222" >0.5</text>
<line x1="410.70" y1="24.91" x2="412.50" y2="24.91" stroke="#808080" stroke-width="0.8" />
<line x1="410.70" y1="67.74" x2="412.50" y2="67.74" stroke="#808080" stroke-width="0.8" />
<line x1="410.70" y1="110.56" x2="412.50" y2="110.56" stroke="#808080" stroke-width="0.8" />
<line x1="410.70" y1="153.39" x2="412.50" y2="153.39" stroke="#808080" stroke-width="0.8" />
<line x1="410.70" y1="196.21" x2="412.50" y2="196.21" stroke="#808080" stroke-width="0.8" />
<line x1="435.00" y1="238.90" x2="435.00" y2="241.70" stroke="#808080" stroke-width="1" />
<text x="435.00" y="250.60" font-family='"Liberation Serif", serif' font-size="8.6" text-anchor="middle" font-weight="bold" fill="#222"  textLength="38.60" lengthAdjust="spacingAndGlyphs">mock control</text>
<line x1="480.20" y1="238.90" x2="480.20" y2="241.70" stroke="#808080" stroke-width="1" />
<text x="480.20" y="250.60" font-family='"Liberation Serif", serif' font-size="8.6" text-anchor="middle" font-weight="bold" fill="#222"  textLength="31.60" lengthAdjust="spacingAndGlyphs">MFN1 KO</text>
<line x1="525.40" y1="238.90" x2="525.40" y2="241.70" stroke="#808080" stroke-width="1" />
<text x="525.40" y="250.60" font-family='"Liberation Serif", serif' font-size="8.6" text-anchor="middle" font-weight="bold" fill="#222"  textLength="45.80" lengthAdjust="spacingAndGlyphs">positive control</text>
<line x1="570.60" y1="238.90" x2="570.60" y2="241.70" stroke="#808080" stroke-width="1" />
<text x="570.60" y="250.60" font-family='"Liberation Serif", serif' font-size="8.6" text-anchor="middle" font-weight="bold" fill="#222"  textLength="38.60" lengthAdjust="spacingAndGlyphs">mock control</text>
<line x1="615.80" y1="238.90" x2="615.80" y2="241.70" stroke="#808080" stroke-width="1" />
<text x="615.80" y="250.60" font-family='"Liberation Serif", serif' font-size="8.6" text-anchor="middle" font-weight="bold" fill="#222"  textLength="31.60" lengthAdjust="spacingAndGlyphs">MFN1 KO</text>
<line x1="661.00" y1="238.90" x2="661.00" y2="241.70" stroke="#808080" stroke-width="1" />
<text x="661.00" y="250.60" font-family='"Liberation Serif", serif' font-size="8.6" text-anchor="middle" font-weight="bold" fill="#222"  textLength="45.80" lengthAdjust="spacingAndGlyphs">positive control</text>
<text x="480.70" y="265.80" font-family='"Liberation Serif", serif' font-size="11.6" text-anchor="middle" font-weight="normal" fill="#222"  textLength="19.00" lengthAdjust="spacingAndGlyphs">1day</text>
<text x="616.90" y="265.80" font-family='"Liberation Serif", serif' font-size="11.6" text-anchor="middle" font-weight="normal" fill="#222"  textLength="22.60" lengthAdjust="spacingAndGlyphs">7days</text>
<text x="416.00" y="11.80" font-family='"Liberation Serif", serif' font-size="9.5" text-anchor="start" font-weight="bold" fill="#111" >MFN1</text>
<text x="-0.60" y="330.20" font-family='"Liberation Serif", serif' font-size="17.5" text-anchor="start" font-weight="normal" fill="#111" >C</text>
<text transform="translate(23.70,439.45) rotate(-90) scale(1,0.87)" font-family='"Liberation Serif", serif' font-size="12.3" text-anchor="middle" fill="#1a1a1a" textLength="236.60" lengthAdjust="spacingAndGlyphs">relative protein expression normalized to &#946;-actin</text>
<text transform="translate(36.60,439.65) rotate(-90) scale(1,0.87)" font-family='"Liberation Serif", serif' font-size="12.3" text-anchor="middle" fill="#1a1a1a">fold change</text>
<line x1="77.50" y1="362.00" x2="77.50" y2="370.40" stroke="#7a7a7a" stroke-width="1" />
<line x1="71.25" y1="362.00" x2="83.75" y2="362.00" stroke="#8a8a8a" stroke-width="1" />
<line x1="77.50" y1="394.20" x2="77.50" y2="405.40" stroke="#7a7a7a" stroke-width="1" />
<line x1="71.25" y1="405.40" x2="83.75" y2="405.40" stroke="#8a8a8a" stroke-width="1" />
<rect x="63.85" y="370.40" width="27.30" height="23.80" fill="#87cefa" stroke="#3a6680" stroke-width="0.9" />
<line x1="63.85" y1="381.10" x2="91.15" y2="381.10" stroke="#3a6680" stroke-width="1.1" />
<path d="M77.50 360.00L79.50 362.00L77.50 364.00L75.50 362.00Z" fill="#fff" stroke="#666" stroke-width="0.8"/>
<path d="M84.30 376.40L86.30 378.40L84.30 380.40L82.30 378.40Z" fill="#fff" stroke="#666" stroke-width="0.8"/>
<circle cx="70.70" cy="384.00" r="1.9" fill="#fff" stroke="#666" stroke-width="0.8"/>
<path d="M77.50 403.40L79.50 405.40L77.50 407.40L75.50 405.40Z" fill="#fff" stroke="#666" stroke-width="0.8"/>
<path d="M76.50 381.50L78.50 383.50M78.50 381.50L76.50 383.50" stroke="#555" stroke-width="0.7"/>
<line x1="122.70" y1="430.40" x2="122.70" y2="439.60" stroke="#7a7a7a" stroke-width="1" />
<line x1="116.20" y1="430.40" x2="129.20" y2="430.40" stroke="#8a8a8a" stroke-width="1" />
<line x1="122.70" y1="458.40" x2="122.70" y2="467.20" stroke="#7a7a7a" stroke-width="1" />
<line x1="116.20" y1="467.20" x2="129.20" y2="467.20" stroke="#8a8a8a" stroke-width="1" />
<rect x="109.05" y="439.60" width="27.30" height="18.80" fill="#ff8000" stroke="#9a4d00" stroke-width="0.9" />
<line x1="109.05" y1="449.10" x2="136.35" y2="449.10" stroke="#9a4d00" stroke-width="1.1" />
<path d="M115.80 446.90L118.00 449.10L115.80 451.30L113.60 449.10Z" fill="#000"/>
<path d="M129.40 446.90L131.60 449.10L129.40 451.30L127.20 449.10Z" fill="#000"/>
<path d="M122.70 428.20L124.90 430.40L122.70 432.60L120.50 430.40Z" fill="#000"/>
<path d="M122.70 465.00L124.90 467.20L122.70 469.40L120.50 467.20Z" fill="#000"/>
<line x1="167.90" y1="400.20" x2="167.90" y2="411.40" stroke="#7a7a7a" stroke-width="1" />
<line x1="161.40" y1="400.20" x2="174.40" y2="400.20" stroke="#8a8a8a" stroke-width="1" />
<line x1="167.90" y1="442.50" x2="167.90" y2="445.80" stroke="#7a7a7a" stroke-width="1" />
<line x1="161.40" y1="445.80" x2="174.40" y2="445.80" stroke="#8a8a8a" stroke-width="1" />
<rect x="154.25" y="411.40" width="27.30" height="31.10" fill="#c0c0c0" stroke="#6a6a6a" stroke-width="0.9" />
<line x1="154.25" y1="430.90" x2="181.55" y2="430.90" stroke="#6a6a6a" stroke-width="1.1" />
<circle cx="161.00" cy="423.00" r="1.9" fill="#fff" stroke="#666" stroke-width="0.8"/>
<circle cx="174.80" cy="438.70" r="1.9" fill="#fff" stroke="#666" stroke-width="0.8"/>
<path d="M167.90 398.20L169.90 400.20L167.90 402.20L165.90 400.20Z" fill="#fff" stroke="#666" stroke-width="0.8"/>
<path d="M167.90 443.80L169.90 445.80L167.90 447.80L165.90 445.80Z" fill="#fff" stroke="#666" stroke-width="0.8"/>
<path d="M166.70 426.00L168.70 428.00M168.70 426.00L166.70 428.00" stroke="#555" stroke-width="0.7"/>
<line x1="213.10" y1="415.00" x2="213.10" y2="424.40" stroke="#7a7a7a" stroke-width="1" />
<line x1="206.60" y1="415.00" x2="219.60" y2="415.00" stroke="#8a8a8a" stroke-width="1" />
<line x1="213.10" y1="449.10" x2="213.10" y2="452.90" stroke="#7a7a7a" stroke-width="1" />
<line x1="206.60" y1="452.90" x2="219.60" y2="452.90" stroke="#8a8a8a" stroke-width="1" />
<rect x="199.45" y="424.40" width="27.30" height="24.70" fill="#87cefa" stroke="#3a6680" stroke-width="0.9" />
<line x1="199.45" y1="439.60" x2="226.75" y2="439.60" stroke="#3a6680" stroke-width="1.1" />
<circle cx="213.00" cy="434.70" r="1.9" fill="#fff" stroke="#666" stroke-width="0.8"/>
<circle cx="206.30" cy="445.00" r="1.9" fill="#fff" stroke="#666" stroke-width="0.8"/>
<path d="M213.00 413.00L215.00 415.00L213.00 417.00L211.00 415.00Z" fill="#fff" stroke="#666" stroke-width="0.8"/>
<path d="M220.30 451.00L222.30 453.00L220.30 455.00L218.30 453.00Z" fill="#fff" stroke="#666" stroke-width="0.8"/>
<line x1="258.20" y1="396.70" x2="258.20" y2="406.80" stroke="#7a7a7a" stroke-width="1" />
<line x1="251.70" y1="396.70" x2="264.70" y2="396.70" stroke="#8a8a8a" stroke-width="1" />
<line x1="258.20" y1="490.80" x2="258.20" y2="543.70" stroke="#7a7a7a" stroke-width="1" />
<line x1="251.70" y1="543.70" x2="264.70" y2="543.70" stroke="#8a8a8a" stroke-width="1" />
<rect x="244.55" y="406.80" width="27.30" height="84.00" fill="#ff8000" stroke="#9a4d00" stroke-width="0.9" />
<line x1="244.55" y1="428.10" x2="271.85" y2="428.10" stroke="#9a4d00" stroke-width="1.1" />
<path d="M251.40 415.40L253.60 417.60L251.40 419.80L249.20 417.60Z" fill="#000"/>
<path d="M264.80 436.40L267.00 438.60L264.80 440.80L262.60 438.60Z" fill="#000"/>
<path d="M258.20 394.50L260.40 396.70L258.20 398.90L256.00 396.70Z" fill="#000"/>
<path d="M258.20 541.50L260.40 543.70L258.20 545.90L256.00 543.70Z" fill="#000"/>
<path d="M257.40 448.20L259.00 449.80M259.00 448.20L257.40 449.80" stroke="#8a3a00" stroke-width="0.7"/>
<line x1="303.30" y1="352.20" x2="303.30" y2="364.20" stroke="#7a7a7a" stroke-width="1" />
<line x1="296.80" y1="352.20" x2="309.80" y2="352.20" stroke="#8a8a8a" stroke-width="1" />
<line x1="303.30" y1="392.50" x2="303.30" y2="398.60" stroke="#7a7a7a" stroke-width="1" />
<line x1="296.80" y1="398.60" x2="309.80" y2="398.60" stroke="#8a8a8a" stroke-width="1" />
<rect x="289.65" y="364.20" width="27.30" height="28.30" fill="#c0c0c0" stroke="#6a6a6a" stroke-width="0.9" />
<line x1="289.65" y1="381.40" x2="316.95" y2="381.40" stroke="#6a6a6a" stroke-width="1.1" />
<circle cx="296.60" cy="375.80" r="1.9" fill="#fff" stroke="#666" stroke-width="0.8"/>
<circle cx="309.90" cy="385.90" r="1.9" fill="#fff" stroke="#666" stroke-width="0.8"/>
<path d="M303.20 350.20L305.20 352.20L303.20 354.20L301.20 352.20Z" fill="#fff" stroke="#666" stroke-width="0.8"/>
<path d="M303.20 396.60L305.20 398.60L303.20 400.60L301.20 398.60Z" fill="#fff" stroke="#666" stroke-width="0.8"/>
<path d="M302.40 377.00L304.40 379.00M304.40 377.00L302.40 379.00" stroke="#555" stroke-width="0.7"/>
<line x1="78.60" y1="349.40" x2="125.30" y2="349.40" stroke="#2a2a2a" stroke-width="1.6" />
<text x="103.00" y="348.40" font-family='"Liberation Serif", serif' font-size="7.4" text-anchor="middle" font-weight="normal" fill="#222" >0.0168</text>
<line x1="116.00" y1="359.50" x2="219.60" y2="359.50" stroke="#3a3a3a" stroke-width="1.0" />
<text x="165.40" y="358.90" font-family='"Liberation Serif", serif' font-size="7.4" text-anchor="middle" font-weight="normal" fill="#222" >0.1225</text>
<line x1="213.60" y1="382.60" x2="260.30" y2="382.60" stroke="#2a2a2a" stroke-width="1.8" />
<text x="236.20" y="380.30" font-family='"Liberation Serif", serif' font-size="7.4" text-anchor="middle" font-weight="normal" fill="#222" >0.3620</text>
<line x1="51.90" y1="322.00" x2="326.75" y2="322.00" stroke="#c0c0c0" stroke-width="1.5" />
<line x1="326.00" y1="322.00" x2="326.00" y2="558.00" stroke="#c0c0c0" stroke-width="1.5" />
<line x1="54.90" y1="322.00" x2="54.90" y2="558.75" stroke="#c4c4c4" stroke-width="1.6" />
<line x1="53.20" y1="558.00" x2="326.75" y2="558.00" stroke="#c0c0c0" stroke-width="1.5" />
<line x1="51.90" y1="322.00" x2="54.90" y2="322.00" stroke="#808080" stroke-width="1" />
<text x="49.70" y="324.45" font-family='"Liberation Serif", serif' font-size="7.15" text-anchor="end" font-weight="bold" fill="#222" >2.0</text>
<line x1="51.90" y1="381.05" x2="54.90" y2="381.05" stroke="#808080" stroke-width="1" />
<text x="49.70" y="383.50" font-family='"Liberation Serif", serif' font-size="7.15" text-anchor="end" font-weight="bold" fill="#222" >1.5</text>
<line x1="51.90" y1="440.10" x2="54.90" y2="440.10" stroke="#808080" stroke-width="1" />
<text x="49.70" y="442.55" font-family='"Liberation Serif", serif' font-size="7.15" text-anchor="end" font-weight="bold" fill="#222" >1.0</text>
<line x1="51.90" y1="499.15" x2="54.90" y2="499.15" stroke="#808080" stroke-width="1" />
<text x="49.70" y="501.60" font-family='"Liberation Serif", serif' font-size="7.15" text-anchor="end" font-weight="bold" fill="#222" >0.5</text>
<line x1="51.90" y1="558.20" x2="54.90" y2="558.20" stroke="#808080" stroke-width="1" />
<text x="49.70" y="560.65" font-family='"Liberation Serif", serif' font-size="7.15" text-anchor="end" font-weight="bold" fill="#222" >0.0</text>
<line x1="53.10" y1="351.52" x2="54.90" y2="351.52" stroke="#808080" stroke-width="0.8" />
<line x1="53.10" y1="410.57" x2="54.90" y2="410.57" stroke="#808080" stroke-width="0.8" />
<line x1="53.10" y1="469.62" x2="54.90" y2="469.62" stroke="#808080" stroke-width="0.8" />
<line x1="53.10" y1="528.67" x2="54.90" y2="528.67" stroke="#808080" stroke-width="0.8" />
<line x1="77.50" y1="558.00" x2="77.50" y2="560.80" stroke="#808080" stroke-width="1" />
<text x="77.50" y="569.50" font-family='"Liberation Serif", serif' font-size="8.6" text-anchor="middle" font-weight="bold" fill="#222"  textLength="38.60" lengthAdjust="spacingAndGlyphs">mock control</text>
<line x1="122.70" y1="558.00" x2="122.70" y2="560.80" stroke="#808080" stroke-width="1" />
<text x="122.70" y="569.50" font-family='"Liberation Serif", serif' font-size="8.6" text-anchor="middle" font-weight="bold" fill="#222"  textLength="31.60" lengthAdjust="spacingAndGlyphs">MFN1 KO</text>
<line x1="167.90" y1="558.00" x2="167.90" y2="560.80" stroke="#808080" stroke-width="1" />
<text x="167.90" y="569.50" font-family='"Liberation Serif", serif' font-size="8.6" text-anchor="middle" font-weight="bold" fill="#222"  textLength="45.80" lengthAdjust="spacingAndGlyphs">positive control</text>
<line x1="213.10" y1="558.00" x2="213.10" y2="560.80" stroke="#808080" stroke-width="1" />
<text x="213.10" y="569.50" font-family='"Liberation Serif", serif' font-size="8.6" text-anchor="middle" font-weight="bold" fill="#222"  textLength="38.60" lengthAdjust="spacingAndGlyphs">mock control</text>
<line x1="258.20" y1="558.00" x2="258.20" y2="560.80" stroke="#808080" stroke-width="1" />
<text x="258.20" y="569.50" font-family='"Liberation Serif", serif' font-size="8.6" text-anchor="middle" font-weight="bold" fill="#222"  textLength="31.60" lengthAdjust="spacingAndGlyphs">MFN1 KO</text>
<line x1="303.30" y1="558.00" x2="303.30" y2="560.80" stroke="#808080" stroke-width="1" />
<text x="303.30" y="569.50" font-family='"Liberation Serif", serif' font-size="8.6" text-anchor="middle" font-weight="bold" fill="#222"  textLength="45.80" lengthAdjust="spacingAndGlyphs">positive control</text>
<text x="125.10" y="586.70" font-family='"Liberation Serif", serif' font-size="11.0" text-anchor="middle" font-weight="normal" fill="#222"  textLength="19.00" lengthAdjust="spacingAndGlyphs">1day</text>
<text x="260.90" y="586.70" font-family='"Liberation Serif", serif' font-size="11.0" text-anchor="middle" font-weight="normal" fill="#222"  textLength="22.60" lengthAdjust="spacingAndGlyphs">7days</text>
<text x="58.60" y="330.60" font-family='"Liberation Serif", serif' font-size="9.3" text-anchor="start" font-weight="bold" fill="#111" >MFN2</text>
<text x="361.70" y="330.10" font-family='"Liberation Serif", serif' font-size="16.2" text-anchor="start" font-weight="normal" fill="#111" >D</text>
<text transform="translate(388.50,439.35) rotate(-90) scale(1,0.87)" font-family='"Liberation Serif", serif' font-size="12.3" text-anchor="middle" fill="#1a1a1a" textLength="236.60" lengthAdjust="spacingAndGlyphs">relative protein expression normalized to &#946;-actin</text>
<text transform="translate(401.20,439.60) rotate(-90) scale(1,0.87)" font-family='"Liberation Serif", serif' font-size="12.3" text-anchor="middle" fill="#1a1a1a">fold change</text>
<line x1="421.90" y1="527.10" x2="450.10" y2="527.10" stroke="#5f7480" stroke-width="1.3" />
<circle cx="424.50" cy="527.10" r="1.25" fill="#fff" stroke="#6a6a6a" stroke-width="0.8"/>
<circle cx="432.30" cy="529.00" r="1.25" fill="#fff" stroke="#6a6a6a" stroke-width="0.8"/>
<circle cx="439.00" cy="525.80" r="1.25" fill="#fff" stroke="#6a6a6a" stroke-width="0.8"/>
<circle cx="446.10" cy="527.00" r="1.25" fill="#fff" stroke="#6a6a6a" stroke-width="0.8"/>
<path d="M435.60 438.20L437.60 440.20L435.60 442.20L433.60 440.20Z" fill="#fff" stroke="#666" stroke-width="0.8"/>
<path d="M434.80 509.00L436.60 510.80M436.60 509.00L434.80 510.80" stroke="#888" stroke-width="0.7"/>
<rect x="467.15" y="523.10" width="27.30" height="5.60" fill="#87cefa" stroke="#3a6680" stroke-width="0.9" />
<line x1="467.15" y1="526.00" x2="494.45" y2="526.00" stroke="#3a6680" stroke-width="1.1" />
<path d="M470.80 524.30L472.60 526.10L470.80 527.90L469.00 526.10Z" fill="#000"/>
<path d="M477.70 526.90L479.50 528.70L477.70 530.50L475.90 528.70Z" fill="#000"/>
<path d="M484.40 521.50L486.20 523.30L484.40 525.10L482.60 523.30Z" fill="#000"/>
<path d="M491.30 527.20L493.10 529.00L491.30 530.80L489.50 529.00Z" fill="#000"/>
<path d="M480.80 474.90L483.00 477.10L480.80 479.30L478.60 477.10Z" fill="#000"/>
<path d="M480.10 515.90L481.90 517.70M481.90 515.90L480.10 517.70" stroke="#888" stroke-width="0.7"/>
<rect x="512.00" y="530.80" width="27.60" height="3.20" fill="#d6d6d6" stroke="#666" stroke-width="0.9" />
<line x1="512.00" y1="532.30" x2="539.60" y2="532.30" stroke="#666" stroke-width="0.8" />
<circle cx="515.50" cy="534.40" r="1.25" fill="#fff" stroke="#6a6a6a" stroke-width="0.8"/>
<circle cx="529.30" cy="535.20" r="1.25" fill="#fff" stroke="#6a6a6a" stroke-width="0.8"/>
<circle cx="536.80" cy="530.80" r="1.25" fill="#fff" stroke="#6a6a6a" stroke-width="0.8"/>
<path d="M526.00 501.40L528.20 505.36L523.80 505.36Z" fill="#fff" stroke="#777" stroke-width="0.7"/>
<path d="M524.90 526.80L526.70 528.60M526.70 526.80L524.90 528.60" stroke="#888" stroke-width="0.7"/>
<line x1="556.90" y1="525.20" x2="585.10" y2="525.20" stroke="#555" stroke-width="1.4" />
<circle cx="559.90" cy="525.20" r="1.2" fill="#fff" stroke="#6a6a6a" stroke-width="0.8"/>
<circle cx="567.70" cy="524.60" r="1.2" fill="#fff" stroke="#6a6a6a" stroke-width="0.8"/>
<circle cx="574.00" cy="526.30" r="1.2" fill="#fff" stroke="#6a6a6a" stroke-width="0.8"/>
<circle cx="581.10" cy="525.40" r="1.2" fill="#fff" stroke="#6a6a6a" stroke-width="0.8"/>
<path d="M571.00 420.50L573.00 422.50L571.00 424.50L569.00 422.50Z" fill="#fff" stroke="#666" stroke-width="0.8"/>
<path d="M570.40 504.00L572.20 505.80M572.20 504.00L570.40 505.80" stroke="#888" stroke-width="0.7"/>
<line x1="602.60" y1="533.50" x2="629.80" y2="533.50" stroke="#2f5f7f" stroke-width="1.5" />
<path d="M606.20 531.70L608.00 533.50L606.20 535.30L604.40 533.50Z" fill="#000"/>
<path d="M612.70 531.70L614.50 533.50L612.70 535.30L610.90 533.50Z" fill="#000"/>
<path d="M619.40 531.70L621.20 533.50L619.40 535.30L617.60 533.50Z" fill="#000"/>
<path d="M626.50 531.70L628.30 533.50L626.50 535.30L624.70 533.50Z" fill="#000"/>
<path d="M616.10 462.40L618.30 464.60L616.10 466.80L613.90 464.60Z" fill="#000"/>
<path d="M615.20 518.60L617.00 520.40M617.00 518.60L615.20 520.40" stroke="#888" stroke-width="0.7"/>
<line x1="647.60" y1="512.40" x2="675.10" y2="512.40" stroke="#555" stroke-width="1.5" />
<circle cx="650.50" cy="512.40" r="1.2" fill="#fff" stroke="#6a6a6a" stroke-width="0.8"/>
<circle cx="658.50" cy="511.60" r="1.2" fill="#fff" stroke="#6a6a6a" stroke-width="0.8"/>
<circle cx="664.00" cy="514.20" r="1.2" fill="#fff" stroke="#6a6a6a" stroke-width="0.8"/>
<circle cx="672.00" cy="512.10" r="1.2" fill="#fff" stroke="#6a6a6a" stroke-width="0.8"/>
<path d="M661.10 335.70L663.10 339.30L659.10 339.30Z" fill="#fff" stroke="#777" stroke-width="0.7"/>
<path d="M660.30 476.70L662.10 478.50M662.10 476.70L660.30 478.50" stroke="#888" stroke-width="0.7"/>
<line x1="438.80" y1="344.60" x2="485.50" y2="344.60" stroke="#2a2a2a" stroke-width="1.6" />
<text x="455.60" y="343.00" font-family='"Liberation Serif", serif' font-size="7.4" text-anchor="middle" font-weight="normal" fill="#222" >0.7604</text>
<line x1="475.30" y1="359.50" x2="578.90" y2="359.50" stroke="#3a3a3a" stroke-width="1.0" />
<text x="523.40" y="356.60" font-family='"Liberation Serif", serif' font-size="7.4" text-anchor="middle" font-weight="normal" fill="#222" >0.9068</text>
<line x1="573.60" y1="377.40" x2="619.90" y2="377.40" stroke="#2a2a2a" stroke-width="1.6" />
<text x="589.70" y="376.20" font-family='"Liberation Serif", serif' font-size="7.4" text-anchor="middle" font-weight="normal" fill="#222" >0.6185</text>
<line x1="410.50" y1="321.80" x2="684.75" y2="321.80" stroke="#c0c0c0" stroke-width="1.5" />
<line x1="684.00" y1="321.80" x2="684.00" y2="557.30" stroke="#c0c0c0" stroke-width="1.5" />
<line x1="413.50" y1="321.80" x2="413.50" y2="557.85" stroke="#959595" stroke-width="1.0" />
<line x1="411.80" y1="557.30" x2="684.75" y2="557.30" stroke="#858585" stroke-width="1.1" />
<line x1="410.50" y1="321.50" x2="413.50" y2="321.50" stroke="#808080" stroke-width="1" />
<text x="408.30" y="323.95" font-family='"Liberation Serif", serif' font-size="7.15" text-anchor="end" font-weight="bold" fill="#222" >8</text>
<line x1="410.50" y1="349.30" x2="413.50" y2="349.30" stroke="#808080" stroke-width="1" />
<text x="408.30" y="351.75" font-family='"Liberation Serif", serif' font-size="7.15" text-anchor="end" font-weight="bold" fill="#222" >7</text>
<line x1="410.50" y1="377.10" x2="413.50" y2="377.10" stroke="#808080" stroke-width="1" />
<text x="408.30" y="379.55" font-family='"Liberation Serif", serif' font-size="7.15" text-anchor="end" font-weight="bold" fill="#222" >6</text>
<line x1="410.50" y1="404.90" x2="413.50" y2="404.90" stroke="#808080" stroke-width="1" />
<text x="408.30" y="407.35" font-family='"Liberation Serif", serif' font-size="7.15" text-anchor="end" font-weight="bold" fill="#222" >5</text>
<line x1="410.50" y1="432.70" x2="413.50" y2="432.70" stroke="#808080" stroke-width="1" />
<text x="408.30" y="435.15" font-family='"Liberation Serif", serif' font-size="7.15" text-anchor="end" font-weight="bold" fill="#222" >4</text>
<line x1="410.50" y1="460.50" x2="413.50" y2="460.50" stroke="#808080" stroke-width="1" />
<text x="408.30" y="462.95" font-family='"Liberation Serif", serif' font-size="7.15" text-anchor="end" font-weight="bold" fill="#222" >3</text>
<line x1="410.50" y1="488.30" x2="413.50" y2="488.30" stroke="#808080" stroke-width="1" />
<text x="408.30" y="490.75" font-family='"Liberation Serif", serif' font-size="7.15" text-anchor="end" font-weight="bold" fill="#222" >2</text>
<line x1="410.50" y1="516.10" x2="413.50" y2="516.10" stroke="#808080" stroke-width="1" />
<text x="408.30" y="518.55" font-family='"Liberation Serif", serif' font-size="7.15" text-anchor="end" font-weight="bold" fill="#222" >1</text>
<line x1="410.50" y1="543.90" x2="413.50" y2="543.90" stroke="#808080" stroke-width="1" />
<text x="408.30" y="546.35" font-family='"Liberation Serif", serif' font-size="7.15" text-anchor="end" font-weight="bold" fill="#222" >0</text>
<line x1="411.70" y1="557.80" x2="413.50" y2="557.80" stroke="#808080" stroke-width="0.8" />
<line x1="411.70" y1="530.00" x2="413.50" y2="530.00" stroke="#808080" stroke-width="0.8" />
<line x1="411.70" y1="502.20" x2="413.50" y2="502.20" stroke="#808080" stroke-width="0.8" />
<line x1="411.70" y1="474.40" x2="413.50" y2="474.40" stroke="#808080" stroke-width="0.8" />
<line x1="411.70" y1="446.60" x2="413.50" y2="446.60" stroke="#808080" stroke-width="0.8" />
<line x1="411.70" y1="418.80" x2="413.50" y2="418.80" stroke="#808080" stroke-width="0.8" />
<line x1="411.70" y1="391.00" x2="413.50" y2="391.00" stroke="#808080" stroke-width="0.8" />
<line x1="411.70" y1="363.20" x2="413.50" y2="363.20" stroke="#808080" stroke-width="0.8" />
<line x1="411.70" y1="335.40" x2="413.50" y2="335.40" stroke="#808080" stroke-width="0.8" />
<line x1="435.70" y1="557.30" x2="435.70" y2="560.10" stroke="#808080" stroke-width="1" />
<text x="435.70" y="569.00" font-family='"Liberation Serif", serif' font-size="8.6" text-anchor="middle" font-weight="bold" fill="#222"  textLength="38.60" lengthAdjust="spacingAndGlyphs">mock control</text>
<line x1="480.80" y1="557.30" x2="480.80" y2="560.10" stroke="#808080" stroke-width="1" />
<text x="480.80" y="569.00" font-family='"Liberation Serif", serif' font-size="8.6" text-anchor="middle" font-weight="bold" fill="#222"  textLength="31.60" lengthAdjust="spacingAndGlyphs">MFN1 KO</text>
<line x1="525.90" y1="557.30" x2="525.90" y2="560.10" stroke="#808080" stroke-width="1" />
<text x="525.90" y="569.00" font-family='"Liberation Serif", serif' font-size="8.6" text-anchor="middle" font-weight="bold" fill="#222"  textLength="45.80" lengthAdjust="spacingAndGlyphs">positive control</text>
<line x1="571.00" y1="557.30" x2="571.00" y2="560.10" stroke="#808080" stroke-width="1" />
<text x="571.00" y="569.00" font-family='"Liberation Serif", serif' font-size="8.6" text-anchor="middle" font-weight="bold" fill="#222"  textLength="38.60" lengthAdjust="spacingAndGlyphs">mock control</text>
<line x1="616.10" y1="557.30" x2="616.10" y2="560.10" stroke="#808080" stroke-width="1" />
<text x="616.10" y="569.00" font-family='"Liberation Serif", serif' font-size="8.6" text-anchor="middle" font-weight="bold" fill="#222"  textLength="31.60" lengthAdjust="spacingAndGlyphs">MFN1 KO</text>
<line x1="661.20" y1="557.30" x2="661.20" y2="560.10" stroke="#808080" stroke-width="1" />
<text x="661.20" y="569.00" font-family='"Liberation Serif", serif' font-size="8.6" text-anchor="middle" font-weight="bold" fill="#222"  textLength="45.80" lengthAdjust="spacingAndGlyphs">positive control</text>
<text x="485.00" y="583.40" font-family='"Liberation Serif", serif' font-size="11.0" text-anchor="middle" font-weight="normal" fill="#222"  textLength="19.00" lengthAdjust="spacingAndGlyphs">1day</text>
<text x="620.50" y="583.40" font-family='"Liberation Serif", serif' font-size="11.0" text-anchor="middle" font-weight="normal" fill="#222"  textLength="22.60" lengthAdjust="spacingAndGlyphs">7days</text>
<text x="416.00" y="331.40" font-family='"Liberation Serif", serif' font-size="9.4" text-anchor="start" font-weight="bold" fill="#111" >proteoglycan</text>
</svg>
</body></html>
